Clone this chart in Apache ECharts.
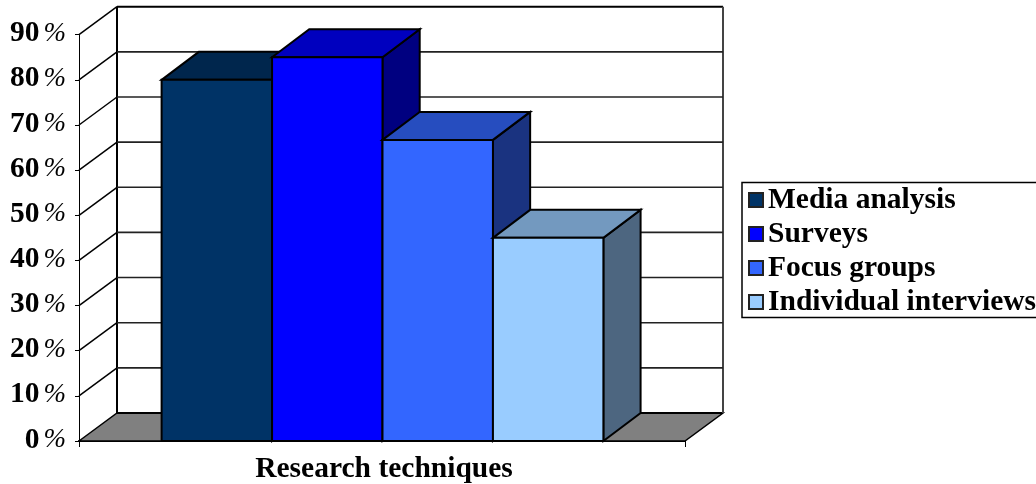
<!DOCTYPE html>
<html>
<head>
<meta charset="utf-8">
<style>html,body{margin:0;padding:0;background:#fff}#chart{width:1036px;height:484px}</style>
<script src="https://cdn.jsdelivr.net/npm/echarts@6/dist/echarts.min.js"></script>
</head>
<body>
<div id="chart"></div>
<script>
// Share of respondents per research technique
const categories = ['Research techniques'];
const seriesNames = ['Media analysis', 'Surveys', 'Focus groups', 'Individual interviews'];
const mediaAnalysis = [80];
const surveys = [85];
const focusGroups = [66.7];
const individualInterviews = [45];
const percentTicks = [0, 10, 20, 30, 40, 50, 60, 70, 80, 90];

// Box projection: how far the back plane sits from the front plane
const DEPTH_X = 38, DEPTH_Y = 28, BAR_DEPTH_X = 37.2;
const GROUP_FRACTION = 0.729, GROUP_SHIFT = 0.5;
const SERIF = '"Liberation Serif", "Times New Roman", serif';

// front, top and side face colours of each bar
const palette = [
  ['#003366', '#00264D', '#001A33'],
  ['#0000FF', '#0000BF', '#000080'],
  ['#3366FF', '#264DBF', '#1A3380'],
  ['#99CCFF', '#7399BF', '#4D6680']
];
const values = [mediaAnalysis, surveys, focusGroups, individualInterviews];

function poly(points, fill, stroke, lineWidth) {
  return {
    type: 'polygon',
    shape: { points },
    style: { fill, stroke: stroke || 'none', lineWidth: lineWidth || 0, lineJoin: 'miter' }
  };
}
function seg(x1, y1, x2, y2, stroke, lineWidth) {
  return {
    type: 'line',
    shape: { x1, y1, x2, y2 },
    style: { stroke, lineWidth, fill: 'none' }
  };
}

// Floor and back wall frame of the box
function renderWalls(params, api) {
  const [cx, y0] = api.coord([0, 0]);
  const [, yTop] = api.coord([0, 90]);
  const band = api.size([1, 0])[0];
  const l = cx - band / 2, r = cx + band / 2;
  const bl = l + DEPTH_X, br = r + DEPTH_X, by = y0 - DEPTH_Y, ty = yTop - DEPTH_Y;
  return {
    type: 'group',
    children: [
      poly([[l, y0], [bl, by], [br, by], [r, y0]], '#808080', '#000', 1.5),
      seg(bl, ty, br, ty, '#000', 2),
      seg(bl, ty, bl, by, '#000', 2),
      seg(bl, by, br, by, '#000', 2),
      seg(br, ty, br, by, '#444', 2),
      seg(l, yTop, bl, ty, '#000', 1.5)
    ]
  };
}

// One gridline per tick: slanted over the side wall, flat along the back wall
function renderGrid(params, api) {
  const [cx, y] = api.coord([0, api.value(0)]);
  const band = api.size([1, 0])[0];
  const l = cx - band / 2, r = cx + band / 2;
  const by = y - DEPTH_Y;
  return {
    type: 'group',
    children: [
      seg(l, y, l + DEPTH_X, by, '#000', 1.5),
      seg(l + DEPTH_X, by, r + DEPTH_X, by, '#222', 1.6)
    ]
  };
}

function barRenderer(index) {
  return function (params, api) {
    const [cx, yTop] = api.coord([0, api.value(1)]);
    const [, y0] = api.coord([0, 0]);
    const band = api.size([1, 0])[0];
    const w = band * GROUP_FRACTION / values.length;
    const x = cx - band * GROUP_FRACTION / 2 + w * index + GROUP_SHIFT;
    const c = palette[index];
    return {
      type: 'group',
      children: [
        poly([[x + w, y0], [x + w + BAR_DEPTH_X, y0 - DEPTH_Y], [x + w + BAR_DEPTH_X, yTop - DEPTH_Y], [x + w, yTop]], c[2], '#000', 2),
        poly([[x, yTop], [x + BAR_DEPTH_X, yTop - DEPTH_Y], [x + w + BAR_DEPTH_X, yTop - DEPTH_Y], [x + w, yTop]], c[1], '#000', 2),
        poly([[x, y0], [x, yTop], [x + w, yTop], [x + w, y0]], c[0], '#000', 2)
      ]
    };
  };
}

const chart = echarts.init(document.getElementById('chart'), null, { renderer: 'canvas' });
chart.setOption({
  animation: false,
  backgroundColor: '#fff',
  grid: { left: 79, right: 351, top: 34.7, bottom: 42.3, containLabel: false },
  legend: {
    show: true,
    orient: 'vertical',
    left: 742,
    top: 182.5,
    padding: [2.5, 8, 0.5, 6],
    data: seriesNames,
    icon: 'rect',
    itemWidth: 14,
    itemHeight: 14,
    itemGap: 4,
    selectedMode: false,
    backgroundColor: '#fff',
    borderColor: '#000',
    borderWidth: 1.5,
    textStyle: { fontFamily: SERIF, fontWeight: 'bold', fontSize: 29.5, lineHeight: 30, color: '#000' }
  },
  xAxis: {
    type: 'category',
    data: categories,
    boundaryGap: true,
    axisLine: { show: true, lineStyle: { color: '#000', width: 2 } },
    axisTick: { show: true, length: 6, lineStyle: { color: '#000', width: 1 } },
    axisLabel: { fontFamily: SERIF, fontWeight: 'bold', fontSize: 29.5, color: '#000', margin: 13, padding: [0, 0, 0, 4] }
  },
  yAxis: {
    type: 'value',
    min: 0,
    max: 90,
    interval: 10,
    splitLine: { show: false },
    axisLine: { show: true, lineStyle: { color: '#000', width: 1 } },
    axisTick: { show: true, length: 4, lineStyle: { color: '#000', width: 1 } },
    axisLabel: {
      margin: 13,
      align: 'right',
      formatter: v => `{n|${v}}{p|%}`,
      rich: {
        n: { fontFamily: SERIF, fontWeight: 'bold', fontSize: 29.5, color: '#000', padding: [0, 4, 2, 0] },
        p: { fontFamily: SERIF, fontStyle: 'italic', fontSize: 27, color: '#000', padding: [0, 0, 2, 0] }
      }
    }
  },
  series: [
    {
      type: 'custom', silent: true, clip: false, z: 1,
      renderItem: renderWalls, data: [[0]], encode: { x: 0 }
    },
    {
      type: 'custom', silent: true, clip: false, z: 2,
      renderItem: renderGrid, data: percentTicks.slice(1, -1).map(v => [v]),
      encode: { y: 0 }
    }
  ].concat(seriesNames.map((name, i) => ({
    type: 'custom',
    name,
    silent: true,
    clip: false,
    z: 3 + i,
    itemStyle: { color: palette[i][0], borderColor: '#222', borderWidth: 1 },
    renderItem: barRenderer(i),
    data: values[i].map((v, k) => [k, v]),
    encode: { x: 0, y: 1 }
  })))
});
</script>
</body>
</html>
